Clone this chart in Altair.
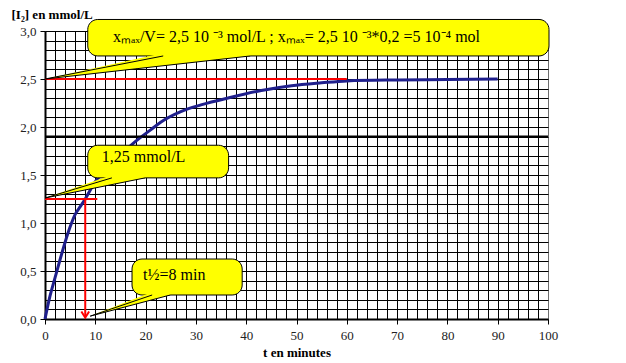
import altair as alt
import pandas as pd

# ---------------- data ----------------
t_min = [0, 1, 2, 3, 4, 5, 6, 7, 8, 10, 12, 15, 18, 21, 23, 27, 31, 37, 43, 49, 55, 60, 70, 80, 90]
conc = [0.0, 0.24, 0.43, 0.62, 0.80, 0.96, 1.09, 1.17, 1.25, 1.43, 1.55, 1.71, 1.85, 1.97, 2.05,
        2.16, 2.23, 2.31, 2.38, 2.43, 2.46, 2.48, 2.49, 2.495, 2.50]

x_grid = list(range(0, 101, 2))
y_grid = [round(i * 0.1, 1) for i in range(31)]
x_major = list(range(0, 101, 10))
y_major = [0.0, 0.5, 1.0, 1.5, 2.0, 2.5, 3.0]

x_max_level = 2.5
half_level = 1.25
t_half = 8
dark_line_y = 1.9

red_seg_x = [0, 0]
red_seg_x2 = [60, 10.4]
red_seg_y = [x_max_level, half_level]

arrow_x = [t_half]
arrow_y = [half_level]
arrow_y2 = [0.03]

# callouts (data units)
box_x = [8.5, 8.5, 17.3]
box_x2 = [100.2, 36.5, 39.2]
box_y = [2.74, 1.47, 0.25]
box_y2 = [3.12, 1.81, 0.625]
tip_x = [0, 0, 9]
tip_y = [2.5, 1.26, 0.03]
edge_up_x = [23.5, 13.3, 21.3]
edge_low_x = [40.8, 19.9, 24.9]
texts = ["x\u2098\u2090\u2093/V=  2,5 10 \u207b\u00b3 mol/L ; x\u2098\u2090\u2093= 2,5 10 \u207b\u00b3*0,2 =5 10\u207b\u2074 mol",
         "1,25 mmol/L", "t\u00bd=8 min"]
text_x = [13.5, 11.3, 19.5]
text_y = [2.885, 1.635, 0.406]

# ---------------- tables ----------------
curve_df = pd.DataFrame({"x": t_min, "y": conc})
red_df = pd.DataFrame({"x": red_seg_x, "x2": red_seg_x2, "y": red_seg_y})
arrow_df = pd.DataFrame({"x": arrow_x, "y": arrow_y, "y2": arrow_y2})
dark_df = pd.DataFrame({"y": [dark_line_y]})
box_df = pd.DataFrame({"x": box_x, "x2": box_x2, "y": box_y, "y2": box_y2})
text_df = pd.DataFrame({"x": text_x, "y": text_y, "txt": texts})

eps = 0.03
area_rows, edge_rows = [], []
for i in range(3):
    tx, ty, ux, lx, yb = tip_x[i], tip_y[i], edge_up_x[i], edge_low_x[i], box_y[i]
    slope_low = (yb - ty) / (lx - tx)
    area_rows += [
        {"cid": i, "x": tx, "y": ty, "hi": ty},
        {"cid": i, "x": ux, "y": ty + slope_low * (ux - tx), "hi": yb + eps},
        {"cid": i, "x": lx, "y": yb, "hi": yb + eps},
    ]
    edge_rows += [
        {"seg": f"{i}u", "x": tx, "y": ty}, {"seg": f"{i}u", "x": ux, "y": yb},
        {"seg": f"{i}l", "x": tx, "y": ty}, {"seg": f"{i}l", "x": lx, "y": yb},
    ]
area_df = pd.DataFrame(area_rows)
edge_df = pd.DataFrame(edge_rows)

# ---------------- scales / axes ----------------
FONT = "Times New Roman, Liberation Serif, serif"
xs = alt.Scale(domain=[0, 100], nice=False, zero=False)
ys = alt.Scale(domain=[0, 3], nice=False, zero=False)

x_major_js = "[" + ",".join(str(v) for v in x_major) + "]"
y_major_js = "[" + ",".join(str(v) for v in y_major) + "]"
x_test = f"indexof({x_major_js}, datum.value) >= 0"
y_test = f"indexof({y_major_js}, datum.value) >= 0"

x_axis = alt.Axis(
    values=x_grid, labelExpr=f"{x_test} ? format(datum.value, 'd') : ''",
    grid=True, gridColor="black", gridWidth=1, gridOpacity=1,
    gridDash={"condition": {"test": "datum.value == 100", "value": [1, 1]}, "value": []},
    tickColor={"condition": {"test": x_test, "value": "black"}, "value": "transparent"},
    tickSize=5, tickWidth=1, domainColor="black", domainWidth=2,
    labelFont=FONT, labelFontSize=13, labelColor="#222", labelPadding=5,
    labelFlush=False, labelOverlap=False,
    title="t en minutes", titleFont=FONT, titleFontSize=13, titleFontWeight="bold",
    titleColor="black", titleY=37, titleBaseline="alphabetic",
)
y_axis = alt.Axis(
    values=y_grid,
    labelExpr=f"{y_test} ? replace(format(datum.value, '.1f'), '.', ',') : ''",
    grid=True, gridColor="black", gridWidth=1, gridOpacity=1,
    tickColor={"condition": {"test": y_test, "value": "black"}, "value": "transparent"},
    tickSize=5, tickWidth=1, domainColor="black", domainWidth=2,
    labelFont=FONT, labelFontSize=13, labelColor="#222", labelPadding=4,
    labelFlush=False, labelOverlap=False,
    title="[I\u2082] en mmol/L", titleFont=FONT, titleFontSize=13, titleFontWeight="bold",
    titleColor="black", titleAngle=0, titleX=-34, titleY=-13,
    titleAlign="left", titleBaseline="alphabetic",
)


def X(field="x"):
    return alt.X(f"{field}:Q", scale=xs, axis=x_axis, title="t en minutes")


def Y(field="y"):
    return alt.Y(f"{field}:Q", scale=ys, axis=y_axis, title="[I\u2082] en mmol/L")


# ---------------- layers ----------------
curve = alt.Chart(curve_df).mark_line(color="#1f1f8c", strokeWidth=3, interpolate="monotone", clip=False).encode(
    x=X(), y=Y(),
)

dark = alt.Chart(dark_df).mark_rule(color="black", strokeWidth=2).encode(y=Y())

red_h = alt.Chart(red_df).mark_rule(color="red", strokeWidth=2).encode(
    x=X(), x2="x2:Q", y=Y(),
)
red_v = alt.Chart(arrow_df).mark_rule(color="red", strokeWidth=2).encode(
    x=X(), y=Y(), y2="y2:Q",
)
arrow_head = alt.Chart(arrow_df).mark_point(
    shape="M -1 -1.2 L 0 0.4 L 1 -1.2", filled=False, color="red", strokeWidth=2, size=60, opacity=1
).encode(
    x=X(), y=Y("y2"),
)

boxes = alt.Chart(box_df).mark_rect(
    fill="#ffff00", stroke="black", strokeWidth=1, cornerRadius=10, clip=False
).encode(
    x=X(), x2="x2:Q", y=Y(), y2="y2:Q",
)
pointers = alt.Chart(area_df).mark_area(color="#ffff00", opacity=1, interpolate="linear").encode(
    x=X(), y=Y(), y2="hi:Q", detail="cid:N",
)
edges = alt.Chart(edge_df).mark_line(color="black", strokeWidth=1).encode(
    x=X(), y=Y(), detail="seg:N",
)
labels = alt.Chart(text_df).mark_text(
    align="left", baseline="alphabetic", font=FONT, fontSize=16, color="black", clip=False
).encode(
    x=X(), y=Y(), text="txt:N",
)

chart = alt.layer(
    curve, dark, red_h, red_v, arrow_head, boxes, pointers, edges, labels
).properties(
    width=503, height=288,
    padding={"left": 37, "top": 23, "right": 70, "bottom": 44},
    autosize=alt.AutoSizeParams(type="none"),
).configure_view(stroke=None).configure(background="white")

chart.save("out.html", embed_options={"renderer": "svg", "actions": False})
